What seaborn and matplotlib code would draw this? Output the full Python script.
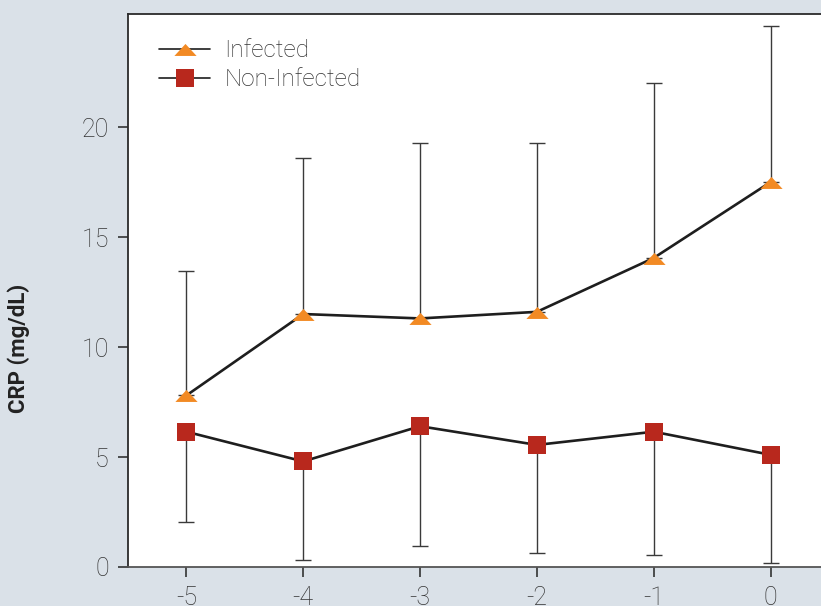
import matplotlib
matplotlib.use("Agg")
import matplotlib.pyplot as plt
import seaborn as sns
import pandas as pd
import numpy as np
from matplotlib.lines import Line2D

days = [-5, -4, -3, -2, -1, 0]
infected_mean = [7.8, 11.5, 11.3, 11.6, 14.05, 17.5]
infected_upper = [13.45, 18.6, 19.27, 19.27, 22.0, 24.6]
noninf_mean = [6.15, 4.8, 6.4, 5.55, 6.15, 5.1]
noninf_lower = [2.05, 0.3, 0.97, 0.65, 0.55, 0.2]
series_names = ["Infected", "Non-Infected"]
yticks = [0, 5, 10, 15, 20]

bg = "#dae1e8"
orange = "#f28a24"
red = "#b8281d"
linec = "#1e1e1e"
errc = "#3a3a3a"
textc = "#333333"

sns.set_theme(style="ticks")
plt.rcParams['font.family'] = ['Roboto', 'DejaVu Sans']

fig = plt.figure(figsize=(8.21, 6.06), dpi=100, facecolor=bg)
W, H = 821, 606
left, right, top, bottom = 128, 829, 14, 567
ax = fig.add_axes([left / W, 1 - bottom / H, (right - left) / W, (bottom - top) / H])
ax.set_facecolor("white")

df = pd.DataFrame({
    "day": days * 2,
    "crp": infected_mean + noninf_mean,
    "group": [series_names[0]] * 6 + [series_names[1]] * 6,
})

inf_err = np.array(infected_upper) - np.array(infected_mean)
non_err = np.array(noninf_mean) - np.array(noninf_lower)
ax.errorbar(days, infected_mean, yerr=[np.zeros(6), inf_err], fmt="none",
            ecolor=errc, elinewidth=1.0, capsize=5.5, capthick=1.0, zorder=1)
ax.errorbar(days, noninf_mean, yerr=[non_err, np.zeros(6)], fmt="none",
            ecolor=errc, elinewidth=1.0, capsize=5.5, capthick=1.0, zorder=1)

tri = [(-1, -0.58), (1, -0.58), (0, 0.5)]
sns.lineplot(data=df, x="day", y="crp", hue="group", style="group",
             markers={series_names[0]: tri, series_names[1]: "s"},
             dashes=False, palette={series_names[0]: linec, series_names[1]: linec},
             ax=ax, legend=False, zorder=2, linewidth=1.9)

ax.lines[-2].set_markerfacecolor(orange)
ax.lines[-2].set_markeredgecolor(orange)
ax.lines[-2].set_markersize(16)
ax.lines[-1].set_markerfacecolor(red)
ax.lines[-1].set_markeredgecolor(red)
ax.lines[-1].set_markersize(12.5)
for l in ax.lines[-2:]:
    l.set_markeredgewidth(0)

handles = [
    Line2D([], [], color=linec, lw=1.2, marker=tri, markersize=16,
           markerfacecolor=orange, markeredgewidth=0),
    Line2D([], [], color=linec, lw=1.2, marker="s", markersize=12.5,
           markerfacecolor=red, markeredgewidth=0),
]
leg = ax.legend(handles, series_names, loc="upper left", frameon=False,
                bbox_to_anchor=(0.013, 0.994), handlelength=2.1, handletextpad=0.6,
                labelspacing=0.25, fontsize=17.5, labelcolor=textc)
for t in leg.get_texts():
    t.set_fontweight("light")

ax.set_xlim(-5.5, 0.5)
ax.set_ylim(0, 25.14)
ax.set_xticks(days)
ax.set_xticklabels([str(d) for d in days])
ax.set_yticks(yticks)
ax.set_yticklabels([str(v) for v in yticks])
ax.set_xlabel("")
ax.set_ylabel("CRP (mg/dL)", fontsize=16, fontweight="bold", color="#222222")
ax.yaxis.set_label_coords(-0.14, 0.396)

ax.tick_params(axis="both", direction="out", length=7.2, width=1.2, colors="#333333",
               labelsize=18, labelcolor=textc, pad=6.5)
for lab in ax.get_xticklabels() + ax.get_yticklabels():
    lab.set_fontweight("light")

for s in ["left", "top", "bottom"]:
    ax.spines[s].set_color("#2a2a2a")
    ax.spines[s].set_linewidth(1.3)
ax.spines["bottom"].set_color("#555555")
ax.spines["right"].set_visible(False)

fig.savefig("out.png", dpi=100, facecolor=bg)
